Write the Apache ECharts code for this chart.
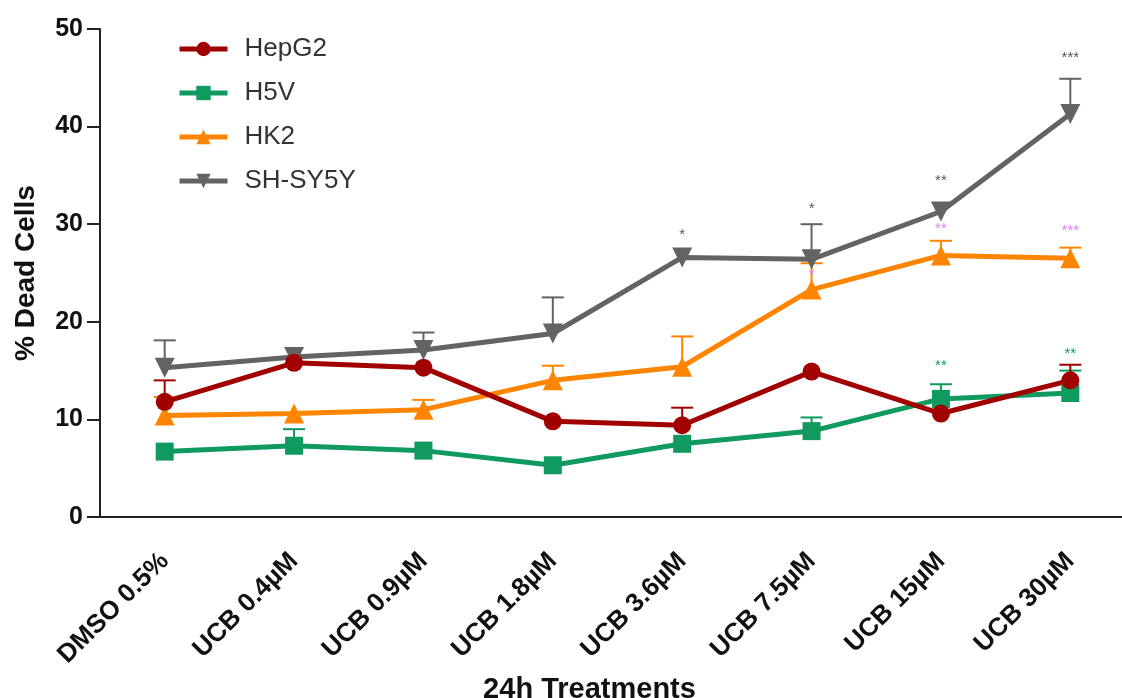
<!DOCTYPE html>
<html>
<head>
<meta charset="utf-8">
<script src="https://cdn.jsdelivr.net/npm/echarts@6/dist/echarts.min.js"></script>
<style>
  html, body { margin: 0; padding: 0; background: #fff; }
  #chart { width: 1122px; height: 698px; }
</style>
</head>
<body>
<div id="chart"></div>
<script>
// categories and values
var treatments = ['DMSO 0.5%', 'UCB 0.4\u00b5M', 'UCB 0.9\u00b5M', 'UCB 1.8\u00b5M', 'UCB 3.6\u00b5M', 'UCB 7.5\u00b5M', 'UCB 15\u00b5M', 'UCB 30\u00b5M'];
var yTicks = [0, 10, 20, 30, 40, 50];

var hepg2 = [11.8, 15.8, 15.3, 9.8, 9.4, 14.9, 10.6, 14.0];
var h5v = [6.7, 7.3, 6.8, 5.3, 7.5, 8.8, 12.1, 12.7];
var hk2 = [10.4, 10.6, 11.0, 14.0, 15.4, 23.3, 26.8, 26.5];
var shsy5y = [15.3, 16.4, 17.1, 18.8, 26.6, 26.4, 31.3, 41.3];

// upper end of the error bars (null = no bar visible)
var hepg2Err = [14.0, null, null, null, 11.2, null, null, 15.6];
var h5vErr = [null, 9.0, null, null, null, 10.2, 13.6, 15.0];
var hk2Err = [12.3, null, 12.0, 15.5, 18.5, 26.0, 28.3, 27.6];
var shsy5yErr = [18.1, null, 18.9, 22.5, null, 30.0, null, 44.9];

// significance marks: [category index, y value, text]
var starsGray = [[4, 28.9, '*'], [5, 31.6, '*'], [6, 34.4, '**'], [7, 47.0, '***']];
var starsViolet = [[5, 24.8, '*'], [6, 29.5, '**'], [7, 29.3, '***']];
var starsGreen = [[6, 15.5, '**'], [7, 16.7, '**']];

var RED = '#a00000', GREEN = '#109a5f', ORANGE = '#ff8500', GRAY = '#636363', VIOLET = '#dd80ff';

function errData(err) {
  var out = [];
  err.forEach(function (v, i) {
    if (v != null) out.push([i, v]);
  });
  return out;
}

function errSeries(err, vals, color) {
  return {
    type: 'custom',
    silent: true,
    z: 1,
    data: errData(err).map(function (d) { return [d[0], vals[d[0]], d[1]]; }),
    renderItem: function (params, api) {
      var p = api.coord([api.value(0), api.value(1)]);
      var t = api.coord([api.value(0), api.value(2)]);
      return {
        type: 'group',
        children: [
          { type: 'line', shape: { x1: p[0], y1: p[1], x2: t[0], y2: t[1] }, style: { stroke: color, lineWidth: 2 } },
          { type: 'line', shape: { x1: t[0] - 11, y1: t[1], x2: t[0] + 11, y2: t[1] }, style: { stroke: color, lineWidth: 2 } }
        ]
      };
    }
  };
}

function starSeries(stars, color) {
  return {
    type: 'custom',
    silent: true,
    z: 5,
    data: stars,
    renderItem: function (params, api) {
      var p = api.coord([api.value(0), api.value(1)]);
      return {
        type: 'text',
        style: {
          x: p[0], y: p[1], text: stars[params.dataIndex][2],
          fill: color, font: '15px "Liberation Sans", Arial',
          align: 'center', verticalAlign: 'middle'
        }
      };
    }
  };
}

function lineSeries(name, vals, color, symbol, size, rot) {
  return {
    name: name,
    type: 'line',
    data: vals,
    z: 3,
    symbol: symbol,
    symbolSize: size,
    symbolRotate: rot || 0,
    lineStyle: { color: color, width: 5 },
    itemStyle: { color: color },
    emphasis: { disabled: true }
  };
}

var chart = echarts.init(document.getElementById('chart'));
chart.setOption({
  animation: false,
  textStyle: { fontFamily: '"Liberation Sans", Arial, sans-serif' },
  grid: { left: 100, top: 29, width: 1035, height: 488, containLabel: false, outerBoundsMode: 'none' },
  legend: {
    orient: 'vertical',
    left: 172,
    top: 31,
    itemWidth: 48,
    itemHeight: 18,
    itemGap: 18,
    lineStyle: { width: 5 },
    textStyle: { fontSize: 26, color: '#333', padding: [0, 0, 0, 12] },
    data: ['HepG2', 'H5V', 'HK2', 'SH-SY5Y']
  },
  xAxis: {
    type: 'category',
    data: treatments,
    name: '24h Treatments',
    nameLocation: 'middle',
    nameGap: 153,
    nameTextStyle: { fontSize: 29, fontWeight: 'bold', color: '#111', padding: [0, 0, 0, -56] },
    axisLine: { lineStyle: { color: '#222', width: 2 } },
    axisTick: { alignWithLabel: true, length: 13, lineStyle: { color: '#222', width: 2 } },
    axisLabel: { rotate: 45, fontSize: 26, fontWeight: 'bold', color: '#111', margin: 40, interval: 0 }
  },
  yAxis: {
    type: 'value',
    min: 0,
    max: 50,
    interval: 10,
    name: '% Dead Cells',
    nameLocation: 'middle',
    nameGap: 60,
    nameTextStyle: { fontSize: 28, fontWeight: 'bold', color: '#111' },
    axisLine: { show: true, lineStyle: { color: '#222', width: 2 } },
    axisTick: { show: true, length: 13, lineStyle: { color: '#222', width: 2 } },
    axisLabel: {
      fontSize: 25, fontWeight: 'bold', color: '#111', margin: 17,
      formatter: function (v) { return yTicks.indexOf(v) >= 0 ? String(v) : ''; }
    },
    splitLine: { show: false }
  },
  series: [
    errSeries(h5vErr, h5v, GREEN),
    errSeries(hk2Err, hk2, ORANGE),
    errSeries(shsy5yErr, shsy5y, GRAY),
    errSeries(hepg2Err, hepg2, RED),
    lineSeries('H5V', h5v, GREEN, 'rect', 18),
    lineSeries('HK2', hk2, ORANGE, 'triangle', 20),
    lineSeries('SH-SY5Y', shsy5y, GRAY, 'triangle', 20, 180),
    lineSeries('HepG2', hepg2, RED, 'circle', 18),
    starSeries(starsGray, '#555'),
    starSeries(starsViolet, VIOLET),
    starSeries(starsGreen, GREEN)
  ]
});
</script>
</body>
</html>
